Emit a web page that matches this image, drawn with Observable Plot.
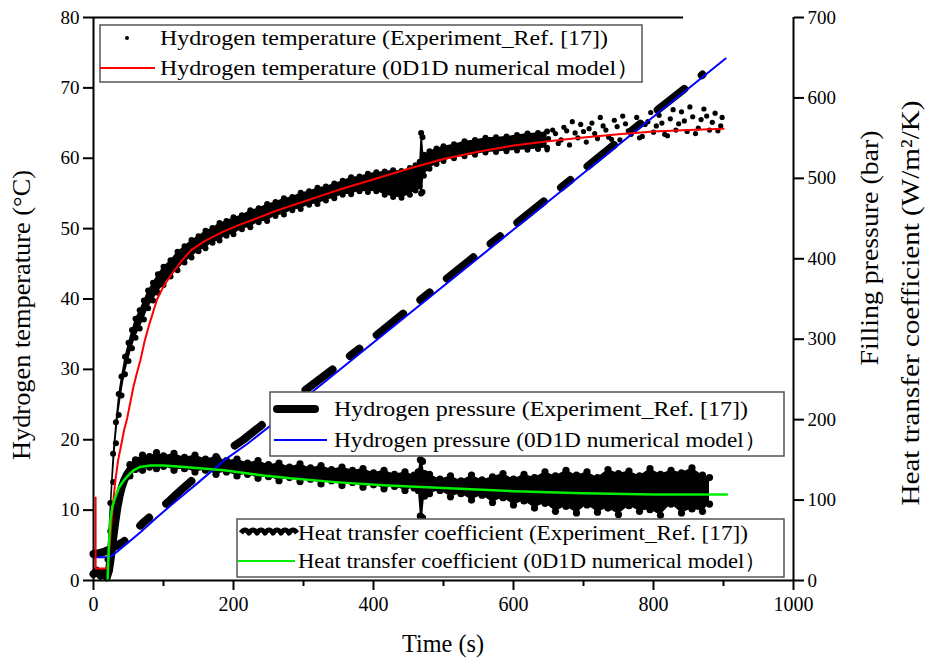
<!DOCTYPE html>
<html>
<head>
<meta charset="utf-8">
<script src="https://cdn.jsdelivr.net/npm/d3@7"></script>
<script src="https://cdn.jsdelivr.net/npm/@observablehq/plot@0.6"></script>
<style>
  html, body { margin: 0; padding: 0; background: #fff; }
  #chart svg { display: block; }
  #chart svg, #chart svg text { font-family: 'Liberation Serif', 'Times New Roman', 'DejaVu Serif', serif !important; }
</style>
</head>
<body>
<div id="chart"></div>
<script>
// ---------- data ----------
// Hydrogen temperature, experiment: dense band (lower / upper edge, °C)
const tempBandTime = [20,24,28,32,36,40,45,50,55,60,66,72,78,85,92,100,110,120,130,140,150,160,170,180,190,200,212,224,236,248,260,272,284,296,308,320,332,344,356,368,380,392,404,416,428,440,452,460,466,468,470,472,480,490,500,515,530,545,560,575,590,605,620,635,648];
const tempBandLow  = [0.5,7,14,19.5,23.5,26.3,29.3,31.2,33,34.5,35.8,37.1,38.7,39.8,40.9,42,43.2,44.1,45.2,45.9,46.8,47.2,48,48.3,49,49.2,49.9,50.2,50.9,51.1,51.8,52,52.6,52.8,53.4,53.5,54,54.3,54.8,54.9,55.3,55.2,55.3,54.8,54.5,54.4,54.8,55.4,56,55,55.2,57.5,58.5,59.2,59.6,60,60.3,60.5,60.8,60.9,61,61.1,61.2,61.3,61.5];
const tempBandHigh = [3,11,18,22.5,26.5,29,31.8,33.8,35.6,37.2,38.4,39.8,41.2,42.3,43.5,44.6,45.5,46.7,47.5,48.4,48.9,49.7,50.1,50.8,51.1,51.6,51.9,52.6,52.9,53.5,53.8,54.3,54.5,55.1,55.3,55.8,56,56.4,56.8,57.3,57.4,57.8,58,58.1,58.3,58.2,58.6,59,59.5,63.6,63,60.5,61,61.4,61.7,62,62.4,62.6,62.9,63,63.1,63.3,63.5,63.6,63.8];
// Hydrogen temperature, experiment: scattered points late in the filling (°C)
const tempScatterTime  = [640,648,650,656,660,664,668,672,676,680,684,688,692,696,700,704,708,712,716,720,724,728,732,736,740,744,748,752,756,760,764,768,772,776,780,784,788,792,796,800,804,808,812,816,820,824,828,832,836,840,844,848,852,856,860,864,868,872,876,880,884,888,892,896,898];
const tempScatterValue = [63.2,61.2,62.8,64.0,63.5,62.1,62.6,64.4,63.9,61.9,65.2,63.6,62.9,64.8,63.8,62.3,64.2,65.0,63.5,62.8,65.8,64.6,64.0,63.0,62.7,65.4,64.5,62.6,66.0,64.9,63.9,63.4,64.3,65.8,62.9,63.1,64.8,65.2,66.5,63.7,64.6,66.1,65.0,63.4,63.2,65.6,66.9,64.0,64.9,66.6,65.3,63.8,67.3,65.9,63.5,64.3,65.5,67.0,66.0,64.0,65.1,66.4,63.9,64.6,65.8];

// Hydrogen temperature, 0D1D model (°C)
const tempModelTime  = [3,3,18,20,23,25,28,31,35,40,44,48,52,57,62,67,73,80,91,100,110,125,139,160,186,210,234,260,281,305,329,353,377,410,450,500,553,600,650,696,750,800,850,900];
const tempModelValue = [11.8,1.7,1.7,2,5,7.5,11,14,17,19.5,21.5,23,25,27.5,29.5,31.3,34,36.5,40,41.8,43.3,45.3,46.9,48.3,49.6,50.6,51.5,52.5,53.2,54,54.8,55.6,56.3,57.3,58.5,59.9,61,61.8,62.4,62.9,63.4,63.8,64,64.2];

// Hydrogen pressure, experiment (bar)
const presExpTime  = [0,8,16,24,32,43,55,71,90,106,122,139,160,180,214,253,300,350,400,450,500,550,600,650,700,750,800,870];
const presExpValue = [33,34,36,39,43,48,58,72,86,97,110,123,140,155,175,202,235,268,302,337,372,407,441,476,511,546,581,629];

// Hydrogen pressure, 0D1D model (bar)
const presModelTime  = [0,20,25,31,38,45,56,67,90,114,150,186,220,249,903];
const presModelValue = [29,29,30,34,39,44,52,60,78,96,122,149,170,190,649];

// Heat transfer coefficient, experiment: initial rise (W/m2/K)
const htcRiseTime  = [0,5,10,15,19,22,25,28,31,34,37,40,44,48,52,56];
const htcRiseValue = [8,12,6,10,4,12,30,52,72,90,104,115,125,132,137,141];
// Heat transfer coefficient, experiment: dense band (lower / upper edge, W/m2/K)
const htcBandTime = [52,60,70,80,90,100,115,130,145,160,175,190,205,220,235,250,265,280,295,310,325,340,355,370,385,400,415,430,445,458,464,467,470,473,480,495,510,525,540,555,570,585,600,615,630,645,660,675,690,705,720,735,750,765,780,795,810,825,840,855,870,880];
const htcBandLow  = [130,138,137,141,139,142,137,139,135,137,132,135,130,132,127,129,124,128,123,126,120,124,118,122,116,119,114,117,112,115,112,80,78,105,108,112,104,108,100,106,97,103,94,99,90,96,86,92,84,94,85,90,82,93,86,88,81,95,84,89,86,95];
const htcBandHigh = [144,150,156,154,159,155,158,153,156,151,154,149,151,146,149,144,146,141,145,140,143,138,141,137,139,134,137,132,135,131,135,150,148,133,132,126,130,124,131,125,129,133,126,132,128,135,130,137,131,135,128,138,133,136,130,139,132,137,134,140,131,128];

// Heat transfer coefficient, 0D1D model (W/m2/K)
const htcModelTime  = [20,21,22,24,27,31,36,43,50,57,66,81,100,130,160,186,239,281,350,420,524,600,700,800,881,905];
const htcModelValue = [0,20,45,75,92,103,115,124,131,137,141,143,143,141,139,137,131,127,122,118,114,111,108.5,107,107,107];

// axes
const tempTicks = [0,10,20,30,40,50,60,70,80];
const rightTicks = [0,100,200,300,400,500,600,700];
const timeMajorTicks = [0,200,400,600,800,1000];
const timeMinorTicks = [100,300,500,700,900];

// ---------- build tables ----------
const zip = (ts, vs) => ts.map((t, i) => ({t, v: vs[i]}));
const band = (ts, lo, hi) => ts.map((t, i) => ({t, lo: lo[i], hi: hi[i]}));
const toLeft = p => p * 80 / 700;   // right-axis units -> left-axis units

const tempBand = band(tempBandTime, tempBandLow, tempBandHigh);
const tempEdges = tempBand.flatMap(d => [{t: d.t, v: d.lo}, {t: d.t, v: d.hi}]);
const tempScatter = zip(tempScatterTime, tempScatterValue);
const tempModel = zip(tempModelTime, tempModelValue);
const presExp = zip(presExpTime, presExpValue);
const presModel = zip(presModelTime, presModelValue);
const htcRise = zip(htcRiseTime, htcRiseValue);
const htcBand = band(htcBandTime, htcBandLow, htcBandHigh);
const htcEdges = htcBand.flatMap(d => [{t: d.t, v: d.lo}, {t: d.t, v: d.hi}]);
const htcModel = zip(htcModelTime, htcModelValue);

const FONT = "'Liberation Serif', 'Times New Roman', 'DejaVu Serif', serif";

const chart = Plot.plot({
  width: 927,
  height: 661,
  marginLeft: 93,
  marginRight: 134,
  marginTop: 17,
  marginBottom: 81,
  x: {domain: [0, 1000]},
  y: {domain: [0, 80]},
  style: {fontFamily: FONT, fontSize: "20px", color: "black", background: "white", overflow: "visible"},
  marks: [
    // temperature experiment
    Plot.areaY(tempBand, {x: "t", y1: "lo", y2: "hi", fill: "black", curve: "linear"}),
    Plot.dot(tempEdges, {x: "t", y: "v", r: 3, fill: "black", stroke: "none"}),
    Plot.dot(tempScatter, {x: "t", y: "v", r: 2.6, fill: "black", stroke: "none"}),
    // heat transfer coefficient experiment
    Plot.line(htcRise, {x: "t", y: d => toLeft(d.v), stroke: "black", strokeWidth: 8, strokeLinejoin: "round", strokeLinecap: "round"}),
    Plot.areaY(htcBand, {x: "t", y1: d => toLeft(d.lo), y2: d => toLeft(d.hi), fill: "black"}),
    Plot.dot(htcEdges, {x: "t", y: d => toLeft(d.v), r: 3.6, fill: "black", stroke: "none"}),
    // pressure experiment
    Plot.line(presExp, {x: "t", y: d => toLeft(d.v), stroke: "black", strokeWidth: 8, strokeDasharray: "34,22,12,22", strokeLinecap: "round"}),
    // models
    Plot.line(presModel, {x: "t", y: d => toLeft(d.v), stroke: "#0000ff", strokeWidth: 2}),
    Plot.line(tempModel, {x: "t", y: "v", stroke: "#ff0000", strokeWidth: 2}),
    Plot.line(htcModel, {x: "t", y: d => toLeft(d.v), stroke: "#00ee00", strokeWidth: 2.5}),
    // frame
    Plot.ruleY([0], {stroke: "black", strokeWidth: 2}),
    Plot.ruleX([0], {stroke: "black", strokeWidth: 2}),
    Plot.ruleX([1000], {stroke: "black", strokeWidth: 2}),
    Plot.ruleY([80], {x1: 0, x2: 843, stroke: "black", strokeWidth: 2}),
    // axes
    Plot.axisY(tempTicks, {anchor: "left", tickSize: 10, tickPadding: 4, strokeWidth: 2, fontSize: 19, label: null}),
    Plot.axisY(rightTicks.map(toLeft), {anchor: "right", tickSize: 10, tickPadding: 4, strokeWidth: 2, fontSize: 19, label: null,
      tickFormat: d => String(Math.round(d * 700 / 80))}),
    Plot.axisX(timeMajorTicks, {anchor: "bottom", tickSize: 10, tickPadding: 6, strokeWidth: 2, fontSize: 20, label: null, tickFormat: d => String(d)}),
    Plot.axisX(timeMinorTicks, {anchor: "bottom", tickSize: 6, strokeWidth: 2, label: null, tickFormat: () => ""})
  ]
});

document.getElementById("chart").appendChild(chart);

// ---------- titles and legends ----------
const svg = d3.select(chart);
const addText = (x, y, txt, size, rotate, anchor = "middle", len = null) => {
  const t = svg.append("text")
    .attr("x", x).attr("y", y)
    .attr("font-family", FONT).attr("font-size", size)
    .attr("fill", "black").attr("text-anchor", anchor)
    .text(txt);
  if (len) t.attr("textLength", len).attr("lengthAdjust", "spacingAndGlyphs");
  if (rotate) t.attr("transform", `rotate(${rotate},${x},${y})`);
  return t;
};
addText(443, 652, "Time (s)", 26, 0, "middle", 82);
addText(30, 315, "Hydrogen temperature (°C)", 26, -90, "middle", 290);
addText(878, 248, "Filling pressure (bar)", 26, -90, "middle", 235);
addText(919, 303, "Heat transfer coefficient (W/m²/K)", 26, -90, "middle", 405);

const box = (x, y, w, h) => svg.append("rect")
  .attr("x", x).attr("y", y).attr("width", w).attr("height", h)
  .attr("fill", "white").attr("stroke", "#555").attr("stroke-width", 1.5);

const LFS = 22;
// legend 1: temperature
box(100, 25, 542, 57);
svg.append("circle").attr("cx", 127).attr("cy", 38).attr("r", 2).attr("fill", "black");
addText(160, 45, "Hydrogen temperature (Experiment_Ref. [17])", LFS, 0, "start", 448);
svg.append("line").attr("x1", 100).attr("x2", 155).attr("y1", 68).attr("y2", 68).attr("stroke", "#ff0000").attr("stroke-width", 2);
addText(160, 75, "Hydrogen temperature (0D1D numerical model\uFF09", LFS, 0, "start", 480);

// legend 2: pressure
box(270, 392, 514, 64);
svg.append("line").attr("x1", 277).attr("x2", 315).attr("y1", 409).attr("y2", 409).attr("stroke", "black").attr("stroke-width", 8).attr("stroke-linecap", "round");
addText(334, 416, "Hydrogen pressure (Experiment_Ref. [17])", LFS, 0, "start", 414);
svg.append("line").attr("x1", 274).attr("x2", 327).attr("y1", 440).attr("y2", 440).attr("stroke", "#0000ff").attr("stroke-width", 2);
addText(334, 447, "Hydrogen pressure (0D1D numerical model\uFF09", LFS, 0, "start", 433);

// legend 3: heat transfer coefficient
box(237, 519, 547, 58);
let wave = "M241,533";
for (let i = 0; i < 7; i++) wave += " q4,-6 8,0";
svg.append("path").attr("d", wave).attr("fill", "none").attr("stroke", "black").attr("stroke-width", 5).attr("stroke-linejoin", "round");
addText(298, 540, "Heat transfer coefficient (Experiment_Ref. [17])", LFS, 0, "start", 450);
svg.append("line").attr("x1", 238).attr("x2", 295).attr("y1", 561).attr("y2", 561).attr("stroke", "#00ee00").attr("stroke-width", 2);
addText(298, 568, "Heat transfer coefficient (0D1D numerical model\uFF09", LFS, 0, "start", 469);
</script>
</body>
</html>
